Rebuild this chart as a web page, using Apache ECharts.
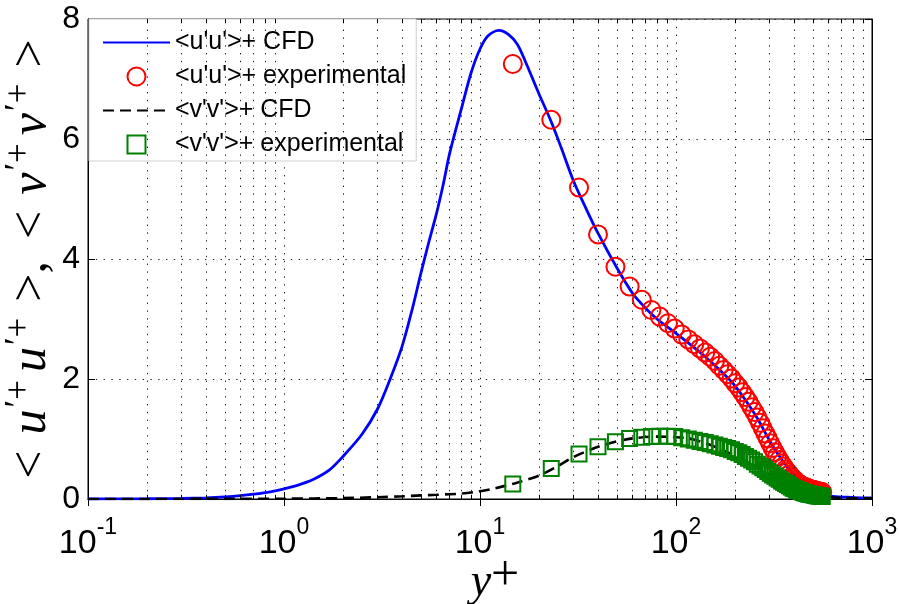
<!DOCTYPE html>
<html><head><meta charset="utf-8">
<script src="https://cdn.jsdelivr.net/npm/echarts@6/dist/echarts.min.js"></script>
<style>html,body{margin:0;padding:0;background:#fff}#c{width:899px;height:604px}</style>
</head><body><div id="c"></div>
<script>
// ---- data ----
const yTicks = [0, 2, 4, 6, 8];
const minorX = [0.2,0.3,0.4,0.5,0.6,0.7,0.8,0.9, 2,3,4,5,6,7,8,9, 20,30,40,50,60,70,80,90, 200,300,400,500,600,700,800,900];

const cfdUX = [0.1,0.15,0.2,0.3,0.4,0.5,0.6,0.7,0.85,1.0,1.2,1.4,1.7,2.0,2.5,3.0,3.5,4.0,4.5,5.0,5.5,6.0,6.5,7.0,8.0,9.0,10,11,12.5,14,15.5,17,20,23,26,30,35,40,50,60,70,80,100,122,140,161,195,215,238,265,290,315,339,381,420,464,520,586,650,750,870,1000];
const cfdUY = [0.0,0.002,0.004,0.01,0.02,0.035,0.055,0.08,0.12,0.17,0.24,0.32,0.48,0.71,1.08,1.5,2.02,2.54,3.15,3.77,4.3,4.76,5.25,5.76,6.48,7.1,7.5,7.72,7.81,7.74,7.58,7.3,6.75,6.3,5.85,5.3,4.82,4.43,3.85,3.43,3.18,3.0,2.76,2.54,2.38,2.2,1.93,1.75,1.54,1.3,1.06,0.86,0.7,0.48,0.32,0.2,0.11,0.06,0.04,0.03,0.02,0.02];

const cfdVX = [0.1,0.5,1,2,3,4,5,6,7,8,10,12,15,20,25,30,40,50,60,80,100,120,150,171,200,250,300,350,400,450,500,600,700,850,1000];
const cfdVY = [0,0.002,0.005,0.015,0.03,0.045,0.06,0.07,0.08,0.09,0.13,0.18,0.26,0.39,0.55,0.7,0.87,0.96,1.01,1.04,1.03,1.0,0.9,0.82,0.72,0.56,0.4,0.27,0.17,0.1,0.06,0.03,0.02,0.01,0.01];

const expX = [14.7,23.1,32.0,40.0,49.1,58.0,66.9,74.9,82.6,91.0,98.5,
  107,115.5,124,132.5,141,149.5,158,166.5,175,183.5,192,200.5,209,217.5,226,234.5,243,251.5,260,268.5,277,285.5,294,302.5,311,319.5,328,336.5,345,353.5,362,370.5,379,387.5,396,404.5,413,421.5,430,438.5,447,455.5,464,472.5,481,489.5,498,506.5,515,523.5,532,540.5,549,557.5];
const expUY = [7.25,6.32,5.19,4.41,3.87,3.54,3.32,3.15,3.04,2.93,2.84,
  2.74,2.66,2.58,2.51,2.44,2.37,2.30,2.22,2.15,2.08,2.01,1.93,1.86,1.78,1.70,1.62,1.53,1.45,1.36,1.27,1.18,1.09,1.01,0.93,0.85,0.78,0.71,0.65,0.59,0.54,0.49,0.45,0.41,0.37,0.34,0.31,0.28,0.26,0.24,0.22,0.21,0.20,0.19,0.18,0.17,0.16,0.155,0.15,0.14,0.135,0.13,0.125,0.12,0.115];
const expVY = [0.25,0.51,0.75,0.87,0.955,1.01,1.03,1.04,1.045,1.045,1.04,
  1.02,1.0,0.98,0.96,0.94,0.92,0.90,0.88,0.86,0.84,0.82,0.79,0.77,0.74,0.71,0.68,0.65,0.62,0.58,0.55,0.52,0.49,0.46,0.43,0.40,0.38,0.35,0.33,0.30,0.28,0.26,0.24,0.22,0.20,0.18,0.17,0.15,0.14,0.13,0.12,0.11,0.10,0.09,0.085,0.08,0.075,0.07,0.065,0.06,0.055,0.05,0.05,0.045,0.04];

const names = ["<u'u'>+ CFD", "<u'u'>+ experimental", "<v'v'>+ CFD", "<v'v'>+ experimental"];

// ---- chart ----
const SANS = 'Liberation Sans, Arial, sans-serif';
const SERIF = 'Liberation Serif, Times New Roman, serif';
const zip = (a, b) => a.map((v, i) => [v, b[i]]);
const dotted = { color: '#222', width: 1, type: [1.4, 6.4] };
const yMin = yTicks[0], yMax = yTicks[yTicks.length - 1];

const gridLines = minorX.map(v => ({ xAxis: v, lineStyle: dotted }));
const tickLen = 0.07;
const minorTicks = [];
minorX.forEach(v => {
  minorTicks.push([{ coord: [v, yMin] }, { coord: [v, yMin + tickLen] }]);
  minorTicks.push([{ coord: [v, yMax] }, { coord: [v, yMax - tickLen] }]);
});

const chart = echarts.init(document.getElementById('c'), null, { renderer: 'canvas' });
const xCommon = {
  type: 'log', logBase: 10, min: 0.1, max: 1000,
  axisLine: { show: true, lineStyle: { color: '#000', width: 1 } },
  axisTick: { show: true, inside: true, length: 7, lineStyle: { color: '#000', width: 1 } },
};
const yCommon = {
  type: 'value', min: yMin, max: yMax, interval: 2,
  axisLine: { show: true, lineStyle: { color: '#000', width: 1 } },
  axisTick: { show: true, inside: true, length: 7, lineStyle: { color: '#000', width: 1 } },
};
const hollow = 'rgba(255,255,255,0)';

const MAIN = 50, SUP = 35, PT = 9;
const yName = (a) =>
  '{o1|<}{i|' + a + '}{s1|\u2032+}{i|' + a + '}{s2|\u2032+}';
const mk = (extra) => Object.assign({ fontSize: MAIN, lineHeight: MAIN, fontFamily: SERIF, color: '#000' }, extra);

chart.setOption({
  animation: false,
  backgroundColor: '#fff',
  grid: { left: 88, right: 27, top: 19, bottom: 105, show: true, borderColor: '#000', borderWidth: 1,
          containLabel: false, outerBoundsMode: 'none' },
  legend: {
    data: [
      { name: names[0] },
      { name: names[1], icon: 'circle' },
      { name: names[2] },
      { name: names[3], icon: 'path://M0,0L10,0L10,10L0,10Z' }
    ],
    orient: 'vertical', left: 89, top: 19,
    itemWidth: 67, itemHeight: 18, itemGap: 9, symbolKeepAspect: true,
    padding: [11, 10, 4, 13],
    backgroundColor: '#fff', borderColor: '#cfcfcf', borderWidth: 1,
    textStyle: { fontSize: 25, lineHeight: 22, fontFamily: SANS, color: '#000' },
    selectedMode: false
  },
  xAxis: [
    Object.assign({}, xCommon, {
      position: 'bottom',
      splitLine: { show: true, lineStyle: dotted },
      axisLabel: {
        show: true, margin: 17, showMinLabel: true, showMaxLabel: true,
        formatter: v => '{b|10}{s|' + Math.round(Math.log10(v)) + '}',
        rich: {
          b: { fontSize: 34, lineHeight: 34, padding: [22, 0, 0, 0], fontFamily: SANS, color: '#000' },
          s: { fontSize: 23, lineHeight: 23, verticalAlign: 'top', fontFamily: SANS, color: '#000' }
        }
      },
      name: '{i|y}{s|+}', nameLocation: 'middle', nameGap: 53, nameMoveOverlap: false,
      nameTextStyle: {
        padding: [0, 0, 0, 30],
        rich: {
          i: { fontSize: 46, lineHeight: 46, padding: [12, 0, 0, 0], fontStyle: 'italic', fontFamily: SERIF, color: '#000' },
          s: { fontSize: 50, lineHeight: 50, verticalAlign: 'top', fontFamily: SERIF, color: '#000' }
        }
      }
    }),
    Object.assign({}, xCommon, {
      position: 'top', axisLabel: { show: false }, splitLine: { show: false }
    })
  ],
  yAxis: [
    Object.assign({}, yCommon, {
      position: 'left',
      splitLine: { show: true, lineStyle: dotted },
      axisLabel: { show: true, margin: 8, fontSize: 32, fontFamily: SANS, color: '#000' },
      name: yName('u') + '{o2|>,}' + yName('v') + '{o3|>}',
      nameLocation: 'middle', nameGap: 36, nameMoveOverlap: false,
      nameTextStyle: {
        rich: {
          o1: mk({ padding: [PT, 16, 0, 0] }),
          o2: mk({ padding: [PT, 22, 0, 0] }),
          o3: mk({ padding: [PT, 0, 0, 0] }),
          i: mk({ padding: [PT, 0, 0, 0], fontStyle: 'italic' }),
          s1: { fontSize: SUP, lineHeight: SUP, padding: [0, 8, 0, 2], verticalAlign: 'top', fontFamily: SERIF, color: '#000' },
          s2: { fontSize: SUP, lineHeight: SUP, padding: [0, 16, 0, 2], verticalAlign: 'top', fontFamily: SERIF, color: '#000' }
        }
      }
    }),
    Object.assign({}, yCommon, {
      position: 'right', axisLabel: { show: false }, splitLine: { show: false }
    })
  ],
  series: [
    {
      type: 'line', name: '_grid', data: [], silent: true, z: 1,
      markLine: {
        silent: true, symbol: ['none', 'none'], label: { show: false }, animation: false,
        emphasis: { disabled: true },
        lineStyle: { color: '#000', width: 1, type: 'solid' },
        data: gridLines.concat(minorTicks)
      }
    },
    {
      type: 'line', name: names[0], data: zip(cfdUX, cfdUY), z: 3,
      symbol: 'none', showSymbol: false, smooth: 0.3,
      lineStyle: { color: '#0000ff', width: 2.8 }, itemStyle: { color: hollow }
    },
    {
      type: 'scatter', name: names[1], data: zip(expX, expUY), z: 4,
      symbol: 'circle', symbolSize: 18,
      itemStyle: { color: hollow, borderColor: '#ff0000', borderWidth: 2, opacity: 1 }
    },
    {
      type: 'line', name: names[2], data: zip(cfdVX, cfdVY), z: 5,
      symbol: 'none', showSymbol: false, smooth: 0.3,
      lineStyle: { color: '#000', width: 2.6, type: [11, 6] }, itemStyle: { color: hollow }
    },
    {
      type: 'scatter', name: names[3], data: zip(expX, expVY), z: 6,
      symbol: 'rect', symbolSize: 15,
      itemStyle: { color: hollow, borderColor: '#008000', borderWidth: 2, opacity: 1 }
    }
  ]
});
</script></body></html>
